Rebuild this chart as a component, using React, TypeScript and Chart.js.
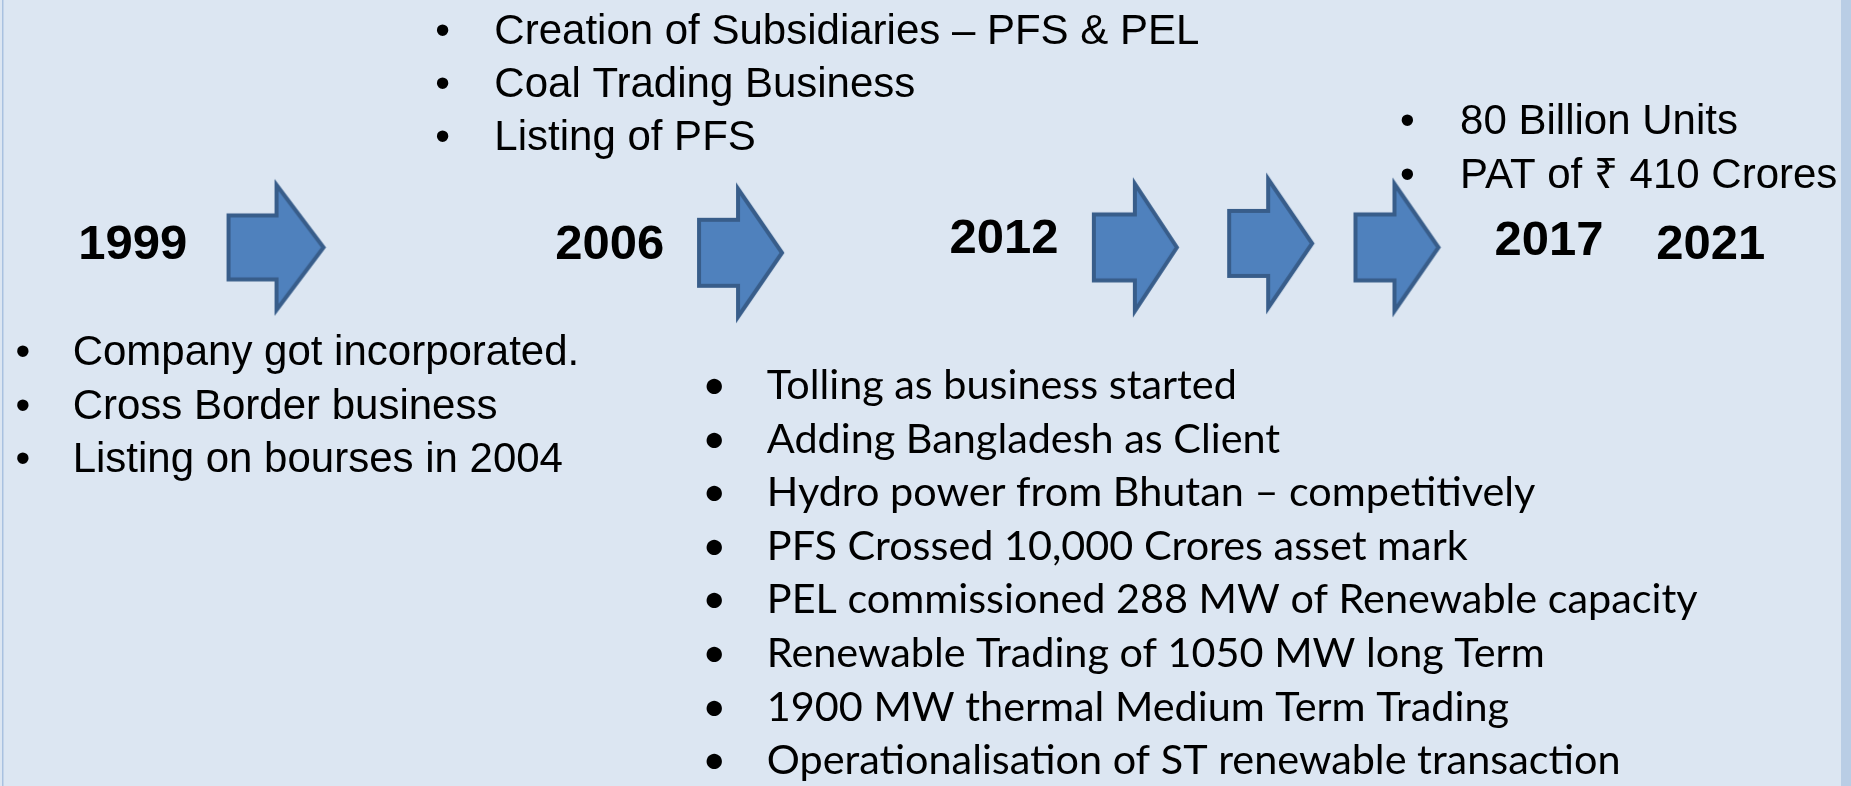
import React, { useEffect, useRef } from "react";
import { Chart, registerables } from "chart.js";

Chart.register(...registerables);

// ---------- data ----------
const years = ["1999", "2006", "2012", "2017", "2021"];
const yearX = [128.5, 608, 1004.5, 1552.5, 1715];
const yearY = [240.5, 240.5, 234.5, 236.5, 240.5];

const arrowX = [272.5, 739.5, 1136.5, 1272.5, 1399.5];
const arrowY = [245.5, 251, 245.5, 241.5, 245.5];

const milestones1999 = [
  "Company got incorporated.",
  "Cross Border business",
  "Listing on bourses in 2004",
];
const milestones2006 = [
  "Creation of Subsidiaries – PFS & PEL",
  "Coal Trading Business",
  "Listing of PFS",
];
const milestones2012 = [
  "Tolling as business started",
  "Adding Bangladesh as Client",
  "Hydro power from Bhutan – competitively",
  "PFS Crossed 10,000 Crores asset mark",
  "PEL commissioned 288 MW of Renewable capacity",
  "Renewable Trading of 1050 MW long Term",
  "1900 MW thermal Medium Term Trading",
  "Operationalisation of ST renewable transaction",
];
const milestones2017 = ["80 Billion Units", "PAT of ₹ 410 Crores"];

// ---------- styles / layout ----------
const W = 1851;
const H = 786;
const BG = "#DCE6F2";
const BAND = "#B9CDE5";
const ARROW_FILL = "#4F81BD";
const ARROW_STROKE = "#385D8A";
const arrowW = [99, 87, 87, 87, 87];
const arrowH = [135, 138, 137, 139, 137];
const arrowNeck = [50, 41, 43, 41, 41];
const arrowBodyH = [64, 66, 66, 65, 66];

const SANS = "'Liberation Sans', Arial, sans-serif";
const CAL = "Lato, 'Open Sans', sans-serif";
const YEAR_FONT_SIZE = 49;

const groups = [
  { lines: milestones1999, bulletX: 18, textX: 68, baseline: 365, gap: 54, family: SANS, size: 42, fitWidth: 0 },
  { lines: milestones2006, bulletX: 440, textX: 492, baseline: 39, gap: 54, family: SANS, size: 42, fitWidth: 0 },
  { lines: milestones2012, bulletX: 713, textX: 766, baseline: 399, gap: 54.3, family: CAL, size: 42, fitWidth: 931 },
  { lines: milestones2017, bulletX: 1410, textX: 1463, baseline: 131, gap: 54, family: SANS, size: 42, fitWidth: 0 },
];

function makeArrow(w: number, h: number, neck: number, bodyH: number): HTMLCanvasElement {
  const pad = 12;
  const c = document.createElement("canvas");
  c.width = w + pad * 2;
  c.height = h + pad * 2;
  const ctx = c.getContext("2d")!;
  const l = pad + 2;
  const r = pad + w - 2;
  const t = pad + 5;
  const b = pad + h - 5;
  const cy = pad + h / 2;
  const hs = pad + neck;
  ctx.beginPath();
  ctx.moveTo(l, cy - bodyH / 2);
  ctx.lineTo(hs, cy - bodyH / 2);
  ctx.lineTo(hs, t);
  ctx.lineTo(r, cy);
  ctx.lineTo(hs, b);
  ctx.lineTo(hs, cy + bodyH / 2);
  ctx.lineTo(l, cy + bodyH / 2);
  ctx.closePath();
  ctx.fillStyle = ARROW_FILL;
  ctx.fill();
  ctx.lineWidth = 4;
  ctx.lineJoin = "miter";
  ctx.strokeStyle = ARROW_STROKE;
  ctx.stroke();
  return c;
}

const bgPlugin = {
  id: "bg",
  beforeDraw(chart: any) {
    const ctx = chart.ctx;
    ctx.save();
    ctx.fillStyle = BG;
    ctx.fillRect(0, 0, chart.width, chart.height);
    ctx.fillStyle = BAND;
    ctx.fillRect(chart.width - 10, 0, 10, chart.height);
    ctx.fillStyle = "#A9C1E0";
    ctx.fillRect(2, 0, 1.5, chart.height);
    ctx.restore();
  },
};

const textPlugin = {
  id: "texts",
  afterDatasetsDraw(chart: any) {
    const ctx = chart.ctx;
    const xs = chart.scales.x;
    const ys = chart.scales.y;
    ctx.save();
    ctx.fillStyle = "#000000";
    // year labels at dataset points
    ctx.font = `bold ${YEAR_FONT_SIZE}px ${SANS}`;
    ctx.textAlign = "center";
    ctx.textBaseline = "alphabetic";
    const meta = chart.getDatasetMeta(1);
    meta.data.forEach((el: any, i: number) => {
      ctx.fillText(years[i], el.x, el.y + YEAR_FONT_SIZE * 0.345);
    });
    // bullet groups
    groups.forEach((g) => {
      let size = g.size;
      if (g.fitWidth) {
        ctx.font = `100px ${g.family}`;
        const maxW = Math.max(...g.lines.map((s) => ctx.measureText(s).width));
        size = (100 * g.fitWidth) / maxW;
      }
      ctx.font = `${size}px ${g.family}`;
      g.lines.forEach((line, i) => {
        const y = ys.getPixelForValue(g.baseline + i * g.gap);
        ctx.textAlign = "center";
        ctx.fillText("•", xs.getPixelForValue(g.bulletX), y);
        ctx.textAlign = "left";
        ctx.fillText(line, xs.getPixelForValue(g.textX), y);
      });
    });
    ctx.restore();
  },
};

export default function App() {
  const ref = useRef<HTMLCanvasElement>(null);
  useEffect(() => {
    document.body.style.margin = "0";
    const canvas = ref.current!;
    const arrowImgs = arrowX.map((_, i) => makeArrow(arrowW[i], arrowH[i], arrowNeck[i], arrowBodyH[i]));
    const chart = new Chart(canvas, {
      type: "scatter",
      data: {
        datasets: [
          {
            label: "arrows",
            data: arrowX.map((x, i) => ({ x, y: arrowY[i] })),
            pointStyle: (c: any) => arrowImgs[c.dataIndex],
            pointRadius: 1,
          },
          {
            label: "years",
            data: yearX.map((x, i) => ({ x, y: yearY[i] })),
            pointRadius: 0,
          },
        ],
      },
      options: {
        animation: false,
        responsive: true,
        maintainAspectRatio: false,
        events: [],
        layout: { padding: 0 },
        scales: {
          x: { type: "linear", min: 0, max: W, display: false },
          y: { type: "linear", min: 0, max: H, reverse: true, display: false },
        },
        plugins: { legend: { display: false }, tooltip: { enabled: false } },
      },
      plugins: [bgPlugin, textPlugin],
    } as any);
    return () => chart.destroy();
  }, []);
  return (
    <div style={{ position: "fixed", left: 0, top: 0, width: W + "px", height: H + "px" }}>
      <canvas ref={ref} />
    </div>
  );
}
